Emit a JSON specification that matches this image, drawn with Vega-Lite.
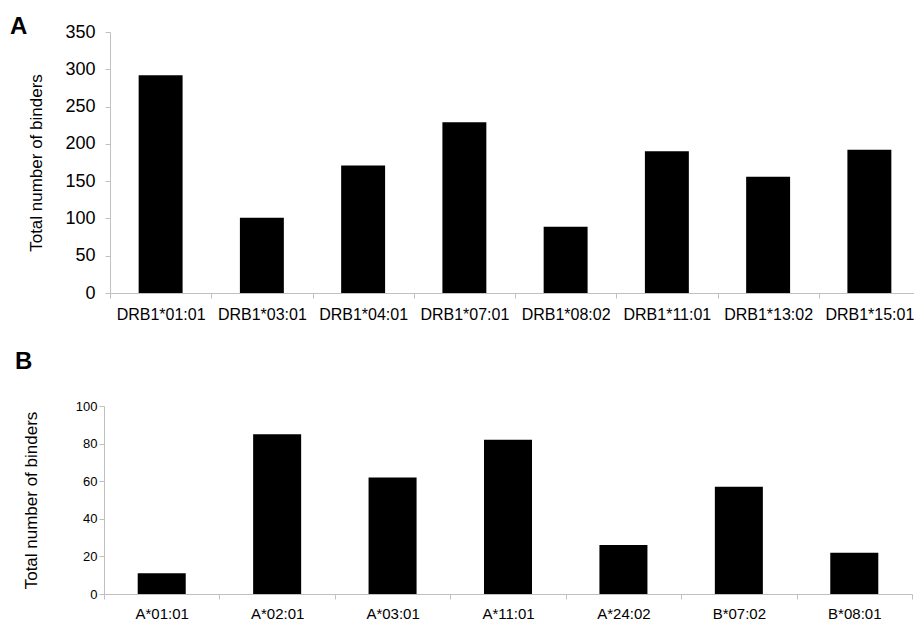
{
  "$schema": "https://vega.github.io/schema/vega-lite/v6.json",
  "background": "white",
  "padding": {"left": 10, "top": 15, "right": 0, "bottom": 0},
  "config": {
    "font": "Liberation Sans",
    "view": {"stroke": null},
    "axis": {"grid": false, "domainColor": "#c0c0c0", "tickColor": "#c0c0c0", "labelColor": "black", "titleColor": "black", "titleFontWeight": "normal", "labelFont": "Liberation Sans", "titleFont": "Liberation Sans"},
    "title": {"font": "Liberation Sans", "fontSize": 24, "fontWeight": "bold", "color": "black", "anchor": "start", "frame": "group"}
  },
  "datasets": {
    "classII": [
      {"allele": "DRB1*01:01", "binders": 292},
      {"allele": "DRB1*03:01", "binders": 101},
      {"allele": "DRB1*04:01", "binders": 171},
      {"allele": "DRB1*07:01", "binders": 229},
      {"allele": "DRB1*08:02", "binders": 89},
      {"allele": "DRB1*11:01", "binders": 190},
      {"allele": "DRB1*13:02", "binders": 156},
      {"allele": "DRB1*15:01", "binders": 192}
    ],
    "classI": [
      {"allele": "A*01:01", "binders": 11},
      {"allele": "A*02:01", "binders": 85},
      {"allele": "A*03:01", "binders": 62},
      {"allele": "A*11:01", "binders": 82},
      {"allele": "A*24:02", "binders": 26},
      {"allele": "B*07:02", "binders": 57},
      {"allele": "B*08:01", "binders": 22}
    ]
  },
  "spacing": 28,
  "vconcat": [
    {
      "title": {"text": "A", "dx": -94, "dy": 20},
      "width": 816,
      "height": 261,
      "data": {"name": "classII"},
      "mark": {"type": "bar", "color": "black", "width": {"band": 0.434}},
      "encoding": {
        "x": {
          "field": "allele", "type": "nominal", "sort": null,
          "scale": {"paddingInner": 0, "paddingOuter": 0, "range": [6, 816]},
          "axis": {"title": null, "labelAngle": 0, "labelFontSize": 16, "tickBand": "extent", "tickSize": 5, "labelPadding": 8}
        },
        "y": {
          "field": "binders", "type": "quantitative",
          "scale": {"domain": [0, 350], "nice": false},
          "axis": {"values": [0, 50, 100, 150, 200, 250, 300, 350], "offset": -6, "labelFontSize": 18, "tickSize": 5, "labelPadding": 10, "title": "Total number of binders", "titleFontSize": 17, "titlePadding": 19}
        }
      }
    },
    {
      "title": {"text": "B", "dx": -89, "dy": -22},
      "width": 808,
      "height": 188,
      "data": {"name": "classI"},
      "mark": {"type": "bar", "color": "black", "width": {"band": 0.416}},
      "encoding": {
        "x": {
          "field": "allele", "type": "nominal", "sort": null,
          "scale": {"paddingInner": 0, "paddingOuter": 0},
          "axis": {"title": null, "labelAngle": 0, "labelFontSize": 15, "tickBand": "extent", "tickSize": 5, "labelPadding": 7}
        },
        "y": {
          "field": "binders", "type": "quantitative",
          "scale": {"domain": [0, 100], "nice": false},
          "axis": {"values": [0, 20, 40, 60, 80, 100], "labelFontSize": 13, "tickSize": 5, "labelPadding": 2, "title": "Total number of binders", "titleFontSize": 17, "titlePadding": 35}
        }
      }
    }
  ]
}
